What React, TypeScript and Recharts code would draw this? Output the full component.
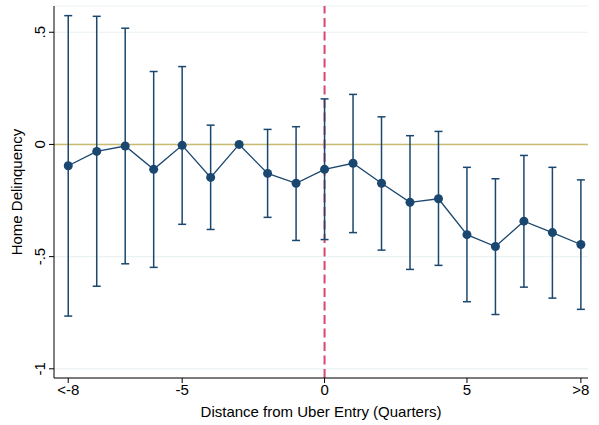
import React from "react";
import {
  ComposedChart,
  Line,
  XAxis,
  YAxis,
  CartesianGrid,
  ReferenceLine,
  ErrorBar,
  Label,
} from "recharts";

const quarters = [-9, -8, -7, -6, -5, -4, -3, -2, -1, 0, 1, 2, 3, 4, 5, 6, 7, 8, 9];
const estimate = [-0.095, -0.031, -0.007, -0.111, -0.004, -0.147, 0, -0.129, -0.173, -0.111, -0.084, -0.173, -0.258, -0.242, -0.402, -0.455, -0.342, -0.393, -0.446];
const upper = [0.574, 0.571, 0.518, 0.325, 0.347, 0.086, 0, 0.067, 0.079, 0.203, 0.223, 0.123, 0.039, 0.058, -0.102, -0.153, -0.049, -0.102, -0.158];
const lower = [-0.765, -0.632, -0.532, -0.548, -0.356, -0.379, 0, -0.325, -0.428, -0.424, -0.393, -0.471, -0.557, -0.539, -0.701, -0.758, -0.636, -0.685, -0.735];

const xTicks = [-9, -5, 0, 5, 9];
const xTickLabels: Record<number, string> = { [-9]: "<-8", [-5]: "-5", 0: "0", 5: "5", 9: ">8" };
const yTicks = [-1, -0.5, 0, 0.5];
const yTickLabels: Record<number, string> = { [-1]: "-1", [-0.5]: "-.5", 0: "0", 0.5: ".5" };

const data = quarters.map((q, i) => ({
  x: q,
  est: estimate[i],
  err: [estimate[i] - lower[i], upper[i] - estimate[i]],
}));

const FONT = "'Liberation Sans', Arial, sans-serif";
const NAVY = "#1a476f";
const FS = 15;

const XTick = (props: any) => {
  const { x, y, payload } = props;
  return (
    <text x={x} y={y + 10} textAnchor="middle" fontFamily={FONT} fontSize={FS} fill="#000">
      {xTickLabels[payload.value] ?? String(payload.value)}
    </text>
  );
};

const YTick = (props: any) => {
  const { x, y, payload } = props;
  return (
    <text
      transform={`translate(${x - 2},${y}) rotate(-90)`}
      textAnchor="middle"
      fontFamily={FONT}
      fontSize={FS}
      fill="#000"
    >
      {yTickLabels[payload.value] ?? String(payload.value)}
    </text>
  );
};

export default function App() {
  return (
    <div style={{ position: "absolute", left: 0, top: 0, width: 599, height: 425, background: "#fff" }}>
      <ComposedChart width={599} height={425} data={data} margin={{ top: 6, right: 11, bottom: 0, left: 0 }}>
        <CartesianGrid horizontal vertical={false} stroke="#eaf2f3" strokeWidth={1.2} />
        <XAxis
          type="number"
          dataKey="x"
          domain={[-9.5, 9.25]}
          ticks={xTicks}
          allowDataOverflow
          height={47}
          tickSize={5}
          tickMargin={2}
          tick={<XTick />}
          stroke="#000"
          axisLine={{ stroke: "#000", strokeWidth: 1 }}
          tickLine={{ stroke: "#000" }}
        >
          <Label
            value="Distance from Uber Entry (Quarters)"
            position="insideBottom"
            offset={8}
            style={{ fontFamily: FONT, fontSize: FS, fill: "#000" }}
          />
        </XAxis>
        <YAxis
          type="number"
          domain={[-1.041, 0.617]}
          ticks={yTicks}
          allowDataOverflow
          width={54}
          tickSize={5}
          tickMargin={2}
          tick={<YTick />}
          axisLine={{ stroke: "#000", strokeWidth: 1 }}
          tickLine={{ stroke: "#000" }}
        >
          <Label
            value="Home Delinquency"
            angle={-90}
            position="insideLeft"
            offset={17}
            style={{ fontFamily: FONT, fontSize: FS, fill: "#000", textAnchor: "middle" }}
          />
        </YAxis>
        <ReferenceLine y={0} stroke="#c8ba72" strokeWidth={1.6} />
        <ReferenceLine x={0} stroke="#d9476e" strokeWidth={2} strokeDasharray="9 4.5" />
        <Line
          type="linear"
          dataKey="est"
          stroke={NAVY}
          strokeWidth={1.3}
          dot={{ r: 4.5, fill: NAVY, stroke: NAVY, strokeWidth: 0 }}
          isAnimationActive={false}
        >
          <ErrorBar dataKey="err" width={4} stroke={NAVY} strokeWidth={1.5} direction="y" />
        </Line>
      </ComposedChart>
    </div>
  );
}
